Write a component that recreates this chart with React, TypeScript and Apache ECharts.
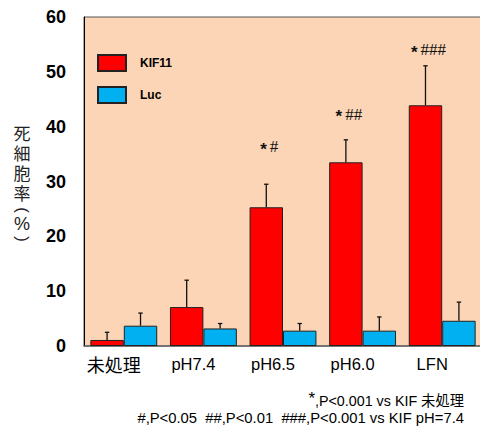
import React, { useEffect, useRef } from "react";
import * as echarts from "echarts";

const categories = ["未処理", "pH7.4", "pH6.5", "pH6.0", "LFN"];
const kifValues = [1.1, 7.1, 25.3, 33.5, 43.9];
const kifErrTop = [2.5, 12.0, 29.5, 37.6, 51.1];
const lucValues = [3.7, 3.2, 2.8, 2.8, 4.6];
const lucErrTop = [6.0, 4.1, 4.1, 5.3, 8.0];
const annotations = ["", "", "#", "##", "###"];
const annotationY = [0, 0, 36.3, 42.3, 54.0];
const yTicks = { min: 0, max: 60, interval: 10 };
const yNameChars = ["死", "細", "胞", "率"];

const CAT_GAP = 0.16;

export default function App() {
  const ref = useRef<HTMLDivElement>(null);
  useEffect(() => {
    if (!ref.current) return;
    const chart = echarts.init(ref.current, null, { renderer: "svg" });

    const errData: number[][] = [];
    categories.forEach((_, i) => {
      errData.push([i, 0, kifValues[i], kifErrTop[i]]);
      errData.push([i, 1, lucValues[i], lucErrTop[i]]);
    });
    const annData: any[] = [];
    categories.forEach((_, i) => {
      if (annotations[i]) annData.push([i, annotationY[i], annotations[i]]);
    });

    const nameStyle = {
      fontFamily: "Liberation Sans, Noto Sans CJK JP",
      fontSize: 17,
      lineHeight: 17,
      align: "center",
      verticalAlign: "middle",
      fill: "#222",
    };
    const nameGraphics: any[] = yNameChars.map((c, i) => ({
      type: "text",
      x: 22,
      y: 134 + i * 20,
      style: { ...nameStyle, text: c },
    }));
    nameGraphics.push(
      {
        type: "text",
        x: 22,
        y: 210,
        rotation: -Math.PI / 2,
        style: { ...nameStyle, text: "(", fontSize: 17, lineHeight: 12, fontFamily: "Liberation Sans" },
      },
      {
        type: "text",
        x: 22,
        y: 224,
        style: { ...nameStyle, text: "%", fontSize: 18, lineHeight: 14, fontFamily: "Liberation Sans" },
      },
      {
        type: "text",
        x: 22,
        y: 239,
        rotation: -Math.PI / 2,
        style: { ...nameStyle, text: ")", fontSize: 17, lineHeight: 12, fontFamily: "Liberation Sans" },
      }
    );

    const option: any = {
      animation: false,
      grid: {
        left: 84,
        right: 8,
        top: 17,
        bottom: 84,
        show: true,
        backgroundColor: "#FBD5B5",
        borderColor: "#555",
        borderWidth: 1,
      },
      legend: {
        orient: "vertical",
        left: 97,
        top: 54,
        padding: 0,
        itemWidth: 28,
        itemHeight: 16,
        itemGap: 14,
        icon: "rect",
        data: ["KIF11", "Luc"],
        textStyle: {
          fontFamily: "Liberation Sans, Arial",
          fontWeight: "bold",
          fontSize: 12,
          color: "#000",
          padding: [0, 0, 0, 9],
        },
      },
      xAxis: {
        type: "category",
        data: categories,
        axisLine: { show: true, lineStyle: { color: "#666", width: 1.5 } },
        axisTick: { show: false },
        axisLabel: {
          interval: 0,
          fontFamily: "Liberation Sans, Arial",
          fontSize: 16.5,
          color: "#000",
          margin: 9,
          padding: [0, 20, 0, 0],
          formatter: (v: string) => (/^[\x00-\x7f]*$/.test(v) ? v : "{c|" + v + "}"),
          rich: {
            c: { fontFamily: "Noto Sans CJK JP", fontSize: 18, color: "#000" },
          },
        },
      },
      yAxis: {
        type: "value",
        min: yTicks.min,
        max: yTicks.max,
        interval: yTicks.interval,
        splitLine: { show: false },
        axisTick: { show: false },
        axisLine: { show: true, lineStyle: { color: "#000", width: 1 } },
        axisLabel: {
          fontFamily: "Liberation Sans, Arial",
          fontWeight: "bold",
          fontSize: 18,
          color: "#000",
          margin: 18,
        },
      },
      series: [
        {
          name: "KIF11",
          type: "bar",
          data: kifValues,
          barGap: "0%",
          barCategoryGap: CAT_GAP * 100 + "%",
          itemStyle: { color: "#FF0000", borderColor: "#222", borderWidth: 1 },
        },
        {
          name: "Luc",
          type: "bar",
          data: lucValues,
          barGap: "0%",
          barCategoryGap: CAT_GAP * 100 + "%",
          itemStyle: { color: "#00B0F0", borderColor: "#222", borderWidth: 1 },
        },
        {
          type: "custom",
          data: errData,
          encode: { x: 0, y: 3 },
          z: 5,
          renderItem: (params: any, api: any) => {
            const cat = api.value(0);
            const grp = api.value(1);
            const base = api.coord([cat, api.value(2)]);
            const top = api.coord([cat, api.value(3)]);
            const band = api.size([1, 0])[0];
            const barW = (band * (1 - CAT_GAP)) / 2;
            const x = base[0] + (grp === 0 ? -barW / 2 : barW / 2);
            const cap = 2.2;
            const st = { stroke: "#111", lineWidth: 1.3 };
            return {
              type: "group",
              children: [
                { type: "line", shape: { x1: x, y1: base[1], x2: x, y2: top[1] }, style: st },
                { type: "line", shape: { x1: x - cap, y1: top[1], x2: x + cap, y2: top[1] }, style: st },
              ],
            };
          },
        },
        {
          type: "custom",
          data: annData,
          encode: { x: 0, y: 1 },
          z: 6,
          renderItem: (params: any, api: any) => {
            const cat = api.value(0);
            const p = api.coord([cat, api.value(1)]);
            const band = api.size([1, 0])[0];
            const barW = (band * (1 - CAT_GAP)) / 2;
            const x = p[0] - barW / 2 + 3;
            return {
              type: "text",
              x,
              y: p[1],
              style: {
                text: "{s|*}{h|" + api.value(2) + "}",
                align: "center",
                verticalAlign: "middle",
                rich: {
                  s: { fontFamily: "Liberation Sans, Arial", fontWeight: "bold", fontSize: 17, fill: "#111", padding: [5, 3, 0, 0] },
                  h: { fontFamily: "Liberation Serif, DejaVu Serif", fontSize: 17, fill: "#111" },
                },
              },
            };
          },
        },
      ],
      graphic: [
        ...nameGraphics,
        {
          type: "text",
          x: 464,
          y: 401,
          style: {
            text: "{s|*}{t|,P<0.001 vs KIF 未処理}",
            align: "right",
            verticalAlign: "middle",
            rich: {
              s: { fontFamily: "Liberation Sans, Arial", fontSize: 17, fill: "#000", padding: [0, 0, 6, 0] },
              t: { fontFamily: "Liberation Sans, Noto Sans CJK JP, Arial", fontSize: 14.3, fill: "#000" },
            },
          },
        },
        {
          type: "text",
          x: 464,
          y: 418,
          style: {
            text: "#,P<0.05\u00a0\u00a0##,P<0.01\u00a0\u00a0###,P<0.001 vs KIF pH=7.4",
            align: "right",
            verticalAlign: "middle",
            fontFamily: "Liberation Sans, Arial",
            fontSize: 14.8,
            fill: "#000",
          },
        },
      ],
    };
    chart.setOption(option);
    return () => chart.dispose();
  }, []);

  return (
    <div style={{ position: "fixed", left: 0, top: 0, width: 480, height: 430, overflow: "hidden", background: "#fff" }}>
      <div ref={ref} style={{ width: 490, height: 430 }} />
    </div>
  );
}
